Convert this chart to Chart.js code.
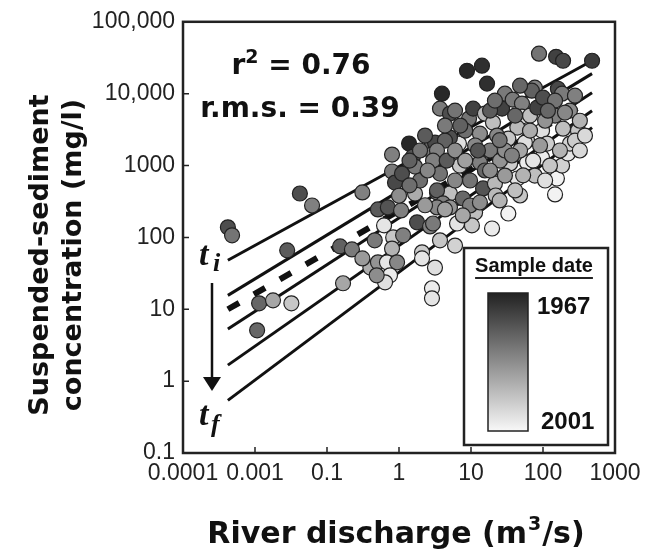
<!DOCTYPE html>
<html>
<head>
<meta charset="utf-8">
<script src="https://cdn.jsdelivr.net/npm/chart.js@4.4.1/dist/chart.umd.min.js"></script>
<style>
  html, body { margin:0; padding:0; background:#fff; }
  #wrap { width:648px; height:550px; }
</style>
</head>
<body>
<div id="wrap"><canvas id="sedChart" width="648" height="550"></canvas></div>
<script>
// axes
const xTickVals = [0.001, 0.01, 0.1, 1, 10, 100, 1000];
const xTickLabels = ['0.0001', '0.001', '0.1', '1', '10', '100', '1000'];
const yTickVals = [0.1, 1, 10, 100, 1000, 10000, 100000];
const yTickLabels = ['0.1', '1', '10', '100', '1000', '10,000', '100,000'];

// samples: discharge (m3/s), concentration (mg/l), sample year
const discharge = [0.0042,0.0048,0.028,0.042,0.062,0.31,0.0114,0.0178,0.032,0.0107,0.152,0.222,0.167,
  0.80,0.80,0.88,1.10,1.38,1.56,1.67,2.87,2.97,1.67,3.37,0.51,0.70,1.07,0.62,1.78,2.70,0.83,1.14,0.80,
  0.40,0.51,0.68,0.94,0.75,0.64,0.49,2.09,2.09,3.16,2.87,2.87,
  3.95,8.8,14.2,16.7,3.71,5.1,6.0,9.4,10.7,15.6,20.2,27,29.6,38,51,51,66,77,70,83,100,161,184,147,147,190,306,
  44,97,60,33,13.3,23,6.8,5.1,3.16,88,152,190,480,4.35,
  7.0,5.1,3.37,13.3,14.7,21.5,11.4,6.4,10.3,19.6,33,35,44,60,97,73,156,147,184,222,56,114,237,3.71,
  2.97,3.71,3.37,4.08,3.37,5.1,7.7,9.7,2.97,13.3,7.7,18.4,25.3,29.6,48,15.6,9.7,77,107,278,172,22,48,
  8.3,11.4,29.6,66,107,18.4,41,237,325,6.0,1.96,
  2.3,1.96,2.5,1.4,2.3,4.6,6.0,8.3,12.5,18.4,25,37,53,25,41,91,125,325,383,202,117,278,48,21.5,7.1,4.35,1.4,1.0,0.46,0.31,4.35,6.0];
const concentration = [138,107,66,408,278,422,12.1,13.3,12.1,5.1,75,68,23,
  1420,826,580,774,2020,1330,968,2020,1470,408,422,245,261,237,147,162,142,100,107,70,
  38,45,45,45,29.7,23.7,29.7,62,51,38,19.6,14.2,
  10000,20800,24500,13800,6190,5280,5810,4500,6190,5280,3960,6190,10000,8260,7270,4790,4950,12100,11000,6390,8800,11700,10000,8000,4950,3260,3060,
  3370,3060,2220,2370,2780,2610,2020,2450,2090,36000,32600,28700,28700,2220,
  1000,408,1620,1100,480,562,222,156,147,133,215,1070,660,1100,1290,1170,660,396,1000,1470,2090,2020,2020,91,
  1170,774,450,297,261,261,348,278,156,306,202,1620,1170,726,1620,853,619,726,619,2220,1620,383,383,
  3060,1900,1620,3060,4200,5810,4950,5810,4200,619,619,
  2610,1620,853,530,280,1170,1620,1170,1620,853,2250,1380,730,327,450,1900,1000,1620,2610,5450,5800,9380,12900,8000,3600,3600,1170,380,91,51,245,77];
const sampleYear = [1974,1980,1976,1974,1982,1982,1978,1988,1993,1978,1977,1981,1988,
  1982,1981,1973,1974,1968,1975,1981,1978,1981,1989,1984,1976,1975,1982,1998,1974,1982,1993,1982,1990,
  1989,1985,1998,1983,1999,1997,1984,1994,1998,1997,1999,1998,
  1968,1968,1969,1969,1981,1974,1980,1980,1972,1991,1992,1972,1981,1981,1982,1997,1992,1982,1977,1972,1974,1973,1981,1980,1982,1992,1993,
  1991,1997,1998,1993,1984,1983,1997,1974,1973,1980,1972,1973,1971,1977,
  1993,1992,1982,1982,1975,1991,1992,1998,1993,1999,2000,1994,1998,1999,1999,1998,2000,2000,1995,1998,1997,1994,1995,1993,
  1982,1980,1977,1982,1983,1985,1978,1982,1981,1984,1988,1981,1985,1986,1988,1978,1980,1992,1997,1994,1990,1991,1993,
  1979,1983,1984,1989,1985,1976,1978,1984,1990,1983,1979,
  1976,1980,1983,1979,1986,1976,1984,1987,1975,1984,1980,1982,1990,1990,1992,1986,1993,1996,1996,1983,1978,1982,1978,1979,1977,1981,1977,1984,1981,1986,1987,1995];

// rating curves (start/end discharge) and the pooled fit (dashed)
const lineX = [0.0042, 480];
const curveA = [48, 28700];
const curveB = [15.6, 19000];
const curveC = [5.3, 10300];
const curveD = [1.67, 5800];
const curveE = [0.54, 3370];
const pooledX = [0.0042, 450];
const pooledY = [10, 8000];

const yearFirst = 1967, yearLast = 2001;
function shade(yr){ const t = (yr - yearFirst) / (yearLast - yearFirst); const g = Math.round(34 + t * (248 - 34)); return `rgb(${g},${g},${g})`; }

const sans = "'Liberation Sans', Arial, sans-serif";
const wide = "'DejaVu Sans', sans-serif";
const serif = "'Liberation Serif', 'Times New Roman', serif";

const decor = {
  id: 'decor',
  afterDraw(chart){
    const { ctx, chartArea: a, scales: { x, y } } = chart;
    ctx.save();
    // frame + inward ticks
    ctx.strokeStyle = '#222'; ctx.lineWidth = 2.5;
    ctx.strokeRect(a.left, a.top, a.right - a.left, a.bottom - a.top);
    ctx.lineWidth = 1.5;
    ctx.beginPath();
    xTickVals.slice(1, -1).forEach(v => { const p = x.getPixelForValue(v); ctx.moveTo(p, a.bottom); ctx.lineTo(p, a.bottom - 6); });
    yTickVals.slice(1, -1).forEach(v => { const p = y.getPixelForValue(v); ctx.moveTo(a.left, p); ctx.lineTo(a.left + 6, p); });
    ctx.stroke();

    ctx.fillStyle = '#111';
    // fit statistics
    ctx.textBaseline = 'alphabetic'; ctx.textAlign = 'left';
    const r = 'r', rest = ' = 0.76';
    ctx.font = `bold 19px ${wide}`; const w2 = ctx.measureText('2').width;
    ctx.font = `bold 28px ${wide}`;
    const wr = ctx.measureText(r).width, wrest = ctx.measureText(rest).width;
    let sx = 301 - (wr + w2 + wrest) / 2;
    ctx.fillText(r, sx, 74);
    ctx.font = `bold 19px ${wide}`; ctx.fillText('2', sx + wr, 63);
    ctx.font = `bold 28px ${wide}`; ctx.fillText(rest, sx + wr + w2, 74);
    ctx.textAlign = 'center';
    ctx.fillText('r.m.s. = 0.39', 300, 117);

    // axis titles
    ctx.font = `bold 27px ${wide}`;
    ctx.save(); ctx.translate(48, 255); ctx.rotate(-Math.PI / 2); ctx.fillText('Suspended-sediment', 0, 0); ctx.restore();
    ctx.save(); ctx.translate(81, 255); ctx.rotate(-Math.PI / 2); ctx.fillText('concentration (mg/l)', 0, 0); ctx.restore();
    ctx.textAlign = 'left';
    ctx.font = `bold 30px ${wide}`;
    const p1 = 'River discharge (m', p3 = '/s)';
    const wp1 = ctx.measureText(p1).width, wp3 = ctx.measureText(p3).width;
    ctx.font = `bold 19px ${wide}`; const w3 = ctx.measureText('3').width;
    sx = 395 - (wp1 + w3 + wp3) / 2;
    ctx.font = `bold 30px ${wide}`; ctx.fillText(p1, sx, 543);
    ctx.font = `bold 19px ${wide}`; ctx.fillText('3', sx + wp1 + 1, 530);
    ctx.font = `bold 30px ${wide}`; ctx.fillText(p3, sx + wp1 + w3 + 2, 543);

    // time arrow t_i -> t_f
    ctx.font = `italic bold 34px ${serif}`; ctx.fillText('t', 199, 265);
    ctx.font = `italic bold 26px ${serif}`; ctx.fillText('i', 213, 271);
    ctx.font = `italic bold 34px ${serif}`; ctx.fillText('t', 199, 425);
    ctx.font = `italic bold 26px ${serif}`; ctx.fillText('f', 211, 432);
    ctx.strokeStyle = '#111'; ctx.lineWidth = 2.5;
    ctx.beginPath(); ctx.moveTo(212, 283); ctx.lineTo(212, 380); ctx.stroke();
    ctx.beginPath(); ctx.moveTo(203, 377); ctx.lineTo(221, 377); ctx.lineTo(212, 391); ctx.closePath(); ctx.fill();

    // colour bar legend
    ctx.fillStyle = '#fff'; ctx.fillRect(464, 248, 144, 197);
    ctx.strokeStyle = '#222'; ctx.lineWidth = 2.5; ctx.strokeRect(464, 248, 144, 197);
    ctx.fillStyle = '#111'; ctx.font = `bold 20px ${sans}`; ctx.textAlign = 'center';
    ctx.fillText('Sample date', 534, 272);
    const tw = ctx.measureText('Sample date').width;
    ctx.lineWidth = 2; ctx.beginPath(); ctx.moveTo(534 - tw / 2, 278); ctx.lineTo(534 + tw / 2, 278); ctx.stroke();
    const grad = ctx.createLinearGradient(0, 293, 0, 431);
    grad.addColorStop(0, shade(yearFirst)); grad.addColorStop(1, shade(yearLast));
    ctx.fillStyle = grad; ctx.fillRect(488, 293, 40, 138);
    ctx.lineWidth = 1.5; ctx.strokeRect(488, 293, 40, 138);
    ctx.fillStyle = '#111'; ctx.font = `bold 24px ${sans}`; ctx.textAlign = 'left';
    ctx.fillText(String(yearFirst), 537, 314);
    ctx.fillText(String(yearLast), 541, 429);
    ctx.restore();
  }
};

document.addEventListener('DOMContentLoaded', function(){
  const pts = discharge.map((d, i) => ({ x: d, y: concentration[i] }));
  const seg = (xs, ys) => xs.map((v, i) => ({ x: v, y: ys[i] }));
  const curveStyle = { showLine:true, pointRadius:0, borderColor:'#111', borderWidth:3, fill:false, order:2 };
  new Chart(document.getElementById('sedChart'), {
    type: 'scatter',
    data: { datasets: [
      { data: pts, pointRadius: 7.5, pointBackgroundColor: sampleYear.map(shade), pointBorderColor: '#222', pointBorderWidth: 1.2, order: 1 },
      { data: seg(lineX, curveA), ...curveStyle },
      { data: seg(lineX, curveB), ...curveStyle },
      { data: seg(lineX, curveC), ...curveStyle },
      { data: seg(lineX, curveD), ...curveStyle },
      { data: seg(lineX, curveE), ...curveStyle },
      { data: seg(pooledX, pooledY), ...curveStyle, borderWidth: 6, borderDash: [13, 17], borderCapStyle: 'butt' }
    ] },
    options: {
      responsive: false, animation: false, devicePixelRatio: 1,
      layout: { padding: { top: 21, right: 33, left: 0, bottom: 0 } },
      plugins: { legend: { display: false }, tooltip: { enabled: false } },
      scales: {
        x: {
          type: 'logarithmic', min: xTickVals[0], max: xTickVals[xTickVals.length - 1],
          afterBuildTicks: s => { s.ticks = xTickVals.map(v => ({ value: v })); },
          afterFit: s => { s.height = 97; },
          grid: { display: false, drawTicks: false }, border: { display: false },
          ticks: { autoSkip: false, maxRotation: 0, padding: 7, color: '#222', font: { family: sans, size: 23 }, callback: (v, i) => xTickLabels[i] }
        },
        y: {
          type: 'logarithmic', min: yTickVals[0], max: yTickVals[yTickVals.length - 1],
          afterBuildTicks: s => { s.ticks = yTickVals.map(v => ({ value: v })); },
          afterFit: s => { s.width = 183; },
          grid: { display: false, drawTicks: false }, border: { display: false },
          ticks: { autoSkip: false, padding: 8, color: '#222', font: { family: sans, size: 23 }, callback: (v, i) => yTickLabels[i] }
        }
      }
    },
    plugins: [decor]
  });
});
</script>
</body>
</html>
